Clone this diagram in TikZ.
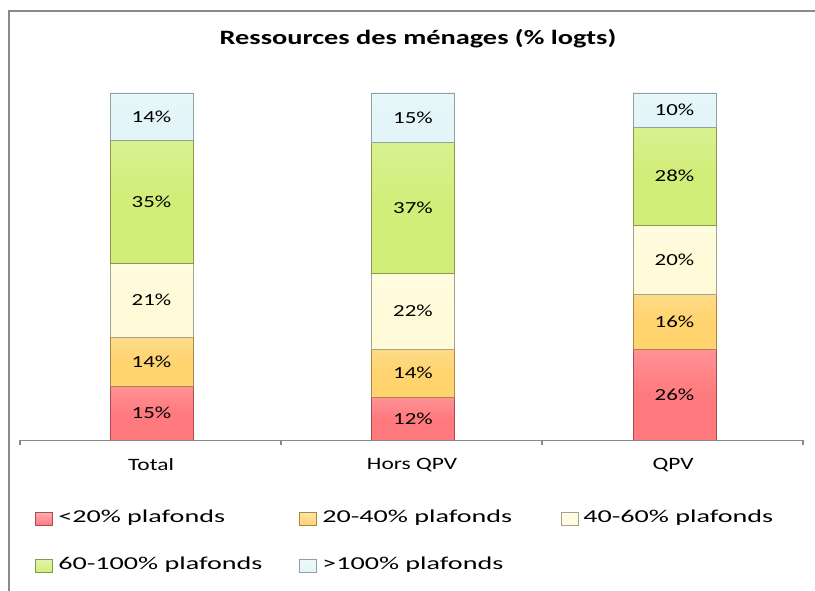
\documentclass[tikz,border=0pt]{standalone}
\usepackage{fontspec}
\setmainfont[FakeStretch=1.35]{Carlito}
\newfontfamily\legfont[FakeStretch=1.55]{Carlito}
\newfontfamily\titfont[FakeStretch=1.39]{Carlito}
\definecolor{cred}{HTML}{FF7A7E}
\definecolor{cora}{HTML}{FFD36E}
\definecolor{ccre}{HTML}{FFFBD9}
\definecolor{cgre}{HTML}{D0EE78}
\definecolor{cblu}{HTML}{E3F5F8}
\definecolor{frame}{HTML}{8A8A8A}
\tikzset{
  seg/.style={draw=#1!65!black, line width=0.6pt, minimum width=62.25pt, inner sep=0pt, outer sep=0pt,
    top color=#1!82!white, bottom color=#1, middle color=#1, font=\fontsize{12.7}{14}\selectfont},
  axlab/.style={font=\fontsize{13}{15}\selectfont, inner sep=0pt},
  legtxt/.style={font=\legfont\fontsize{13.6}{15}\selectfont, anchor=west, inner sep=0pt},
  sw/.style={draw=#1!65!black, line width=0.4pt, top color=#1!60!white, bottom color=#1, minimum width=12.5pt, minimum height=9.5pt, inner sep=0pt},
}
\newcommand\barseg[6]{% name, x, ybottom, ytop, colour, label
  \node[seg=#5, minimum height={(#3-#4)*0.75pt}] (#1) at (#2,{(#3+#4)/2}) {#6};
}
\begin{document}
\begin{tikzpicture}[x=0.75pt,y=-0.75pt]
\useasboundingbox (0,0) rectangle (815,591);
% frame
\draw[frame, line width=1.2pt] (9,591) -- (9,11) -- (815,11);
% title
\node[font=\titfont\fontsize{15.3}{18}\selectfont\bfseries, inner sep=0pt] (title) at (418,39) {Ressources des ménages (\% logts)};
% bars: Total
\barseg{t1}{151.5}{440}{386}{cred}{15\%}
\barseg{t2}{151.5}{386}{337}{cora}{14\%}
\barseg{t3}{151.5}{337}{263}{ccre}{21\%}
\barseg{t4}{151.5}{263}{140}{cgre}{35\%}
\barseg{t5}{151.5}{140}{93}{cblu}{14\%}
% Hors QPV
\barseg{h1}{413}{440}{397}{cred}{12\%}
\barseg{h2}{413}{397}{349}{cora}{14\%}
\barseg{h3}{413}{349}{273}{ccre}{22\%}
\barseg{h4}{413}{273}{142}{cgre}{37\%}
\barseg{h5}{413}{142}{93}{cblu}{15\%}
% QPV
\barseg{q1}{674.5}{440}{349}{cred}{26\%}
\barseg{q2}{674.5}{349}{294}{cora}{16\%}
\barseg{q3}{674.5}{294}{225}{ccre}{20\%}
\barseg{q4}{674.5}{225}{127}{cgre}{28\%}
\barseg{q5}{674.5}{127}{93}{cblu}{10\%}
% axis
\coordinate (a0) at (20,440.5);
\coordinate (a1) at (281,440.5);
\coordinate (a2) at (542,440.5);
\coordinate (a3) at (803,440.5);
\draw[frame, line width=1.3pt] (a0) -- (a3);
\foreach \c in {a0,a1,a2,a3} \draw[frame, line width=1.1pt] (\c) -- ++(0,5);
\node[axlab] (lt) at (151,465) {Total};
\node[axlab] (lh) at (412,465) {Hors QPV};
\node[axlab] (lq) at (673,465) {QPV};
% legend
\node[sw=cred] (s1) at (43.5,518.5) {};
\node[legtxt] (l1) at (58,518) {<20\% plafonds};
\node[sw=cora] (s2) at (308,518.5) {};
\node[legtxt] (l2) at (322,518) {20-40\% plafonds};
\node[sw=ccre] (s3) at (569.5,518.5) {};
\node[legtxt] (l3) at (583,518) {40-60\% plafonds};
\node[sw=cgre] (s4) at (43.5,565.5) {};
\node[legtxt] (l4) at (58,565) {60-100\% plafonds};
\node[sw=cblu] (s5) at (308,565.5) {};
\node[legtxt] (l5) at (322,565) {>100\% plafonds};
\end{tikzpicture}
\end{document}
